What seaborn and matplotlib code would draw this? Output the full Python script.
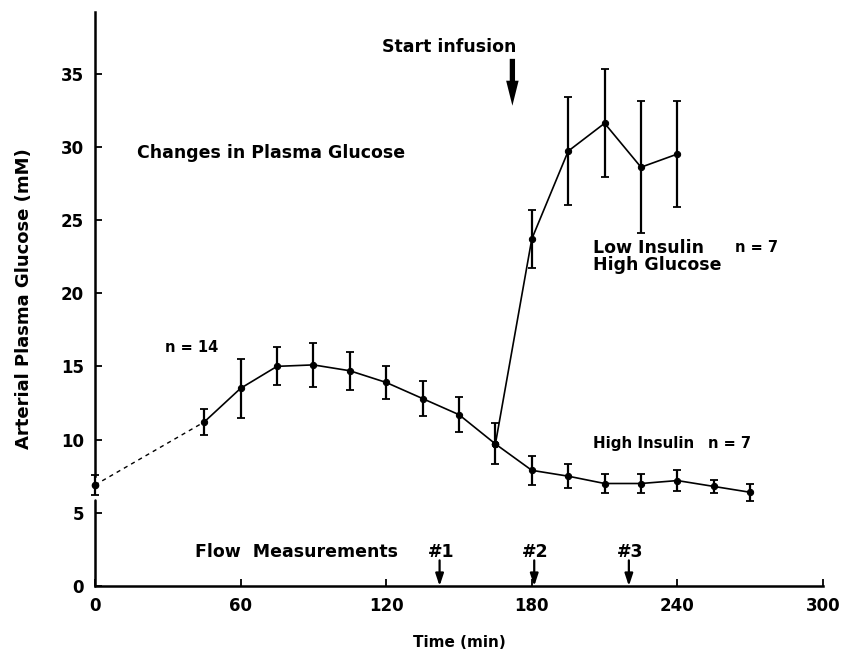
import matplotlib
matplotlib.use("Agg")
import matplotlib.pyplot as plt
import seaborn as sns
import pandas as pd
import numpy as np

# ---- data ----
base_t = [0, 45, 60, 75, 90, 105, 120, 135, 150, 165]
base_y = [6.9, 11.2, 13.5, 15.0, 15.1, 14.7, 13.9, 12.8, 11.7, 9.7]
base_e = [0.7, 0.9, 2.0, 1.3, 1.5, 1.3, 1.15, 1.2, 1.2, 1.4]

hi_ins_t = [180, 195, 210, 225, 240, 255, 270]
hi_ins_y = [7.9, 7.5, 7.0, 7.0, 7.2, 6.8, 6.4]
hi_ins_e = [1.0, 0.8, 0.65, 0.65, 0.7, 0.45, 0.6]

lo_ins_t = [180, 195, 210, 225, 240]
lo_ins_y = [23.7, 29.7, 31.6, 28.6, 29.5]
lo_ins_e = [2.0, 3.7, 3.7, 4.5, 3.6]

flow_t = [142, 181, 220]
flow_labels = ["#1", "#2", "#3"]
infusion_t = 172
xticks = [0, 60, 120, 180, 240, 300]
yticks = [0, 5, 10, 15, 20, 25, 30, 35]

sns.set_theme(style="white")
plt.rcParams["font.family"] = ["DejaVu Sans"]
plt.rcParams["font.weight"] = "bold"
plt.rcParams["text.color"] = "black"
plt.rcParams["axes.labelcolor"] = "black"

fig = plt.figure(figsize=(8.45, 6.57), dpi=100)
ax = fig.add_axes([95/845, 1-586/657, (823-95)/845, (586-12)/657])

lw = 1.2
ms = 4.5
# dashed start segment
dash_df = pd.DataFrame({"t": base_t[:2], "y": base_y[:2]})
sns.lineplot(data=dash_df, x="t", y="y", ax=ax, color="black", lw=1.0,
             linestyle=(0, (3, 3)))
# baseline solid
b_df = pd.DataFrame({"t": base_t[1:], "y": base_y[1:]})
sns.lineplot(data=b_df, x="t", y="y", ax=ax, color="black", lw=lw,
             marker="o", markersize=ms, markeredgecolor="black")
# high insulin (continuing from last baseline point)
hi_df = pd.DataFrame({"t": [base_t[-1]] + hi_ins_t, "y": [base_y[-1]] + hi_ins_y})
sns.lineplot(data=hi_df, x="t", y="y", ax=ax, color="black", lw=lw,
             marker="o", markersize=ms, markeredgecolor="black")
lo_df = pd.DataFrame({"t": [base_t[-1]] + lo_ins_t, "y": [base_y[-1]] + lo_ins_y})
sns.lineplot(data=lo_df, x="t", y="y", ax=ax, color="black", lw=lw,
             marker="o", markersize=ms, markeredgecolor="black")
ax.plot(base_t[0], base_y[0], "o", color="black", markersize=ms, clip_on=False)

for t, y, e in [(base_t, base_y, base_e), (hi_ins_t, hi_ins_y, hi_ins_e),
                (lo_ins_t, lo_ins_y, lo_ins_e)]:
    ax.errorbar(t, y, yerr=e, fmt="none", ecolor="black", elinewidth=1.6,
                capsize=3, capthick=1.3, clip_on=False)

ax.set_xlim(0, 300)
ax.set_ylim(0, 39.2)
ax.set_xticks(xticks)
ax.set_yticks(yticks)
ax.tick_params(axis="both", direction="in", length=5, width=1.3,
               labelsize=12, colors="black", pad=8, bottom=True, left=True)
for lab in ax.get_xticklabels() + ax.get_yticklabels():
    lab.set_fontweight("bold")

for s in ["top", "right"]:
    ax.spines[s].set_visible(False)
ax.spines["bottom"].set_linewidth(1.8)
ax.spines["bottom"].set_color("black")
ax.spines["left"].set_linewidth(1.8)
ax.spines["left"].set_color("black")
ax.spines["left"].set_bounds(7.5, 39.2)
ax.axvline(0, ymin=0, ymax=5.85/39.2, color="black", lw=1.8, clip_on=False)

ax.set_xlabel("Time (min)", fontsize=11, fontweight="bold", labelpad=14)
ax.set_ylabel("Arterial Plasma Glucose (mM)", fontsize=13, fontweight="bold",
              labelpad=20)

tk = dict(fontsize=12.5, fontweight="bold", color="black")
sm = dict(fontsize=10.5, fontweight="bold", color="black")
ax.text(17.3, 29.6, "Changes in Plasma Glucose", va="center", ha="left", **tk)
ax.text(29, 16.3, "n = 14", va="center", ha="left", **sm)
ax.text(205.4, 23.1, "Low Insulin", va="center", ha="left", **tk)
ax.text(263.7, 23.1, "n = 7", va="center", ha="left", **sm)
ax.text(205.4, 21.9, "High Glucose", va="center", ha="left", **tk)
ax.text(205.2, 9.75, "High Insulin", va="center", ha="left",
        fontsize=10.9, fontweight="bold", color="black")
ax.text(252.6, 9.75, "n = 7", va="center", ha="left", **sm)
ax.text(41.2, 2.3, "Flow  Measurements", va="center", ha="left", **tk)
ax.text(146, 36.8, "Start infusion", va="center", ha="center", **tk)

# start infusion arrow
ax.annotate("", xy=(infusion_t, 32.8), xytext=(infusion_t, 36.0),
            arrowprops=dict(arrowstyle="simple,head_width=0.9,head_length=1.8,tail_width=0.38",
                            color="black", lw=0, mutation_scale=10,
                            shrinkA=0, shrinkB=0))

for ft, fl in zip(flow_t, flow_labels):
    ax.text(ft + 0.5, 2.3, fl, va="center", ha="center", **tk)
    ax.annotate("", xy=(ft, 0.0), xytext=(ft, 1.75),
                arrowprops=dict(arrowstyle="-|>,head_width=0.2,head_length=0.6",
                                color="black", lw=1.6, shrinkA=0, shrinkB=0))

fig.savefig("out.png", dpi=100)
